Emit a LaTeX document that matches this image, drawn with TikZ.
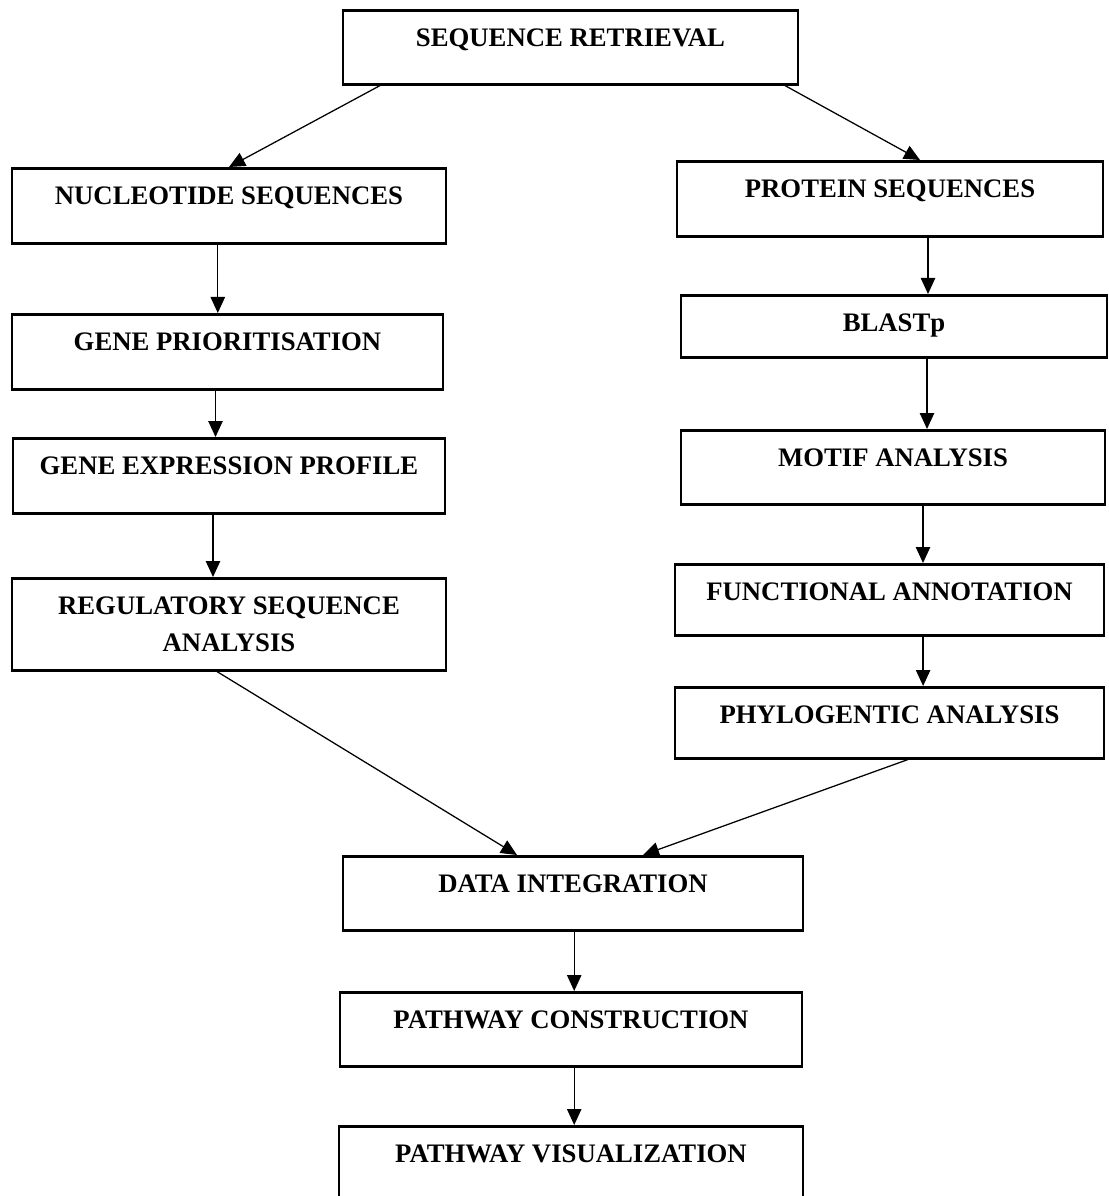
\documentclass[tikz,border=0pt]{standalone}
\usepackage{fontspec}
\setmainfont{Liberation Serif}
\usetikzlibrary{arrows.meta}

\begin{document}
\begin{tikzpicture}[
            x=0.025cm, y=-0.025cm,
            box/.style={draw, line width=1.8pt, inner sep=0pt, anchor=north,
                font=\bfseries\fontsize{19}{22}\selectfont, text height=0.91cm},
            >={Triangle[length=0.4cm, width=0.36cm]},
            arrow/.style={->, line width=0.9pt}
        ]
        \useasboundingbox (0,0) rectangle (1109,1196);

        % top
        \node[box, minimum width=11.375cm, text depth=0.94cm] (sr) at (570.5,9) {SEQUENCE RETRIEVAL};

        % left column
        \node[box, minimum width=10.85cm, text depth=0.965cm] (nuc) at (229,167) {NUCLEOTIDE SEQUENCES};
        \node[box, minimum width=10.775cm, text depth=0.965cm] (gp) at (227.5,313) {GENE PRIORITISATION};
        \node[box, minimum width=10.8cm, text depth=0.965cm] (ge) at (229,437) {GENE EXPRESSION PROFILE};
        \node[box, minimum width=10.85cm, minimum height=2.3cm, text height=, text depth=, align=center] (reg) at (229,577) {REGULATORY SEQUENCE\\[5pt] ANALYSIS};

        % right column
        \node[box, minimum width=10.65cm, text depth=0.965cm] (prot) at (890,160) {PROTEIN SEQUENCES};
        \node[box, minimum width=10.65cm, text depth=0.65cm] (blast) at (894,294) {BLASTp};
        \node[box, minimum width=10.6cm, text depth=0.94cm] (motif) at (893,429) {MOTIF ANALYSIS};
        \node[box, minimum width=10.725cm, text depth=0.865cm] (func) at (889.5,563) {FUNCTIONAL ANNOTATION};
        \node[box, minimum width=10.725cm, text depth=0.865cm] (phylo) at (889.5,686) {PHYLOGENTIC ANALYSIS};

        % bottom
        \node[box, minimum width=11.5cm, text depth=0.94cm] (data) at (573,855) {DATA INTEGRATION};
        \node[box, minimum width=11.55cm, text depth=0.94cm] (pc) at (571,991) {PATHWAY CONSTRUCTION};
        \node[box, minimum width=11.6cm, text depth=1.2cm] (pv) at (571,1125) {PATHWAY VISUALIZATION};

        \draw[arrow] ([xshift=-4.76cm]sr.south) -- (nuc.north);
        \draw[arrow] ([xshift=5.36cm]sr.south) -- ([xshift=0.75cm]prot.north);

        \foreach \a/\b/\s in {nuc/gp/-0.28, gp/ge/-0.3, ge/reg/-0.4,
                prot/blast/0.95, blast/motif/0.825, motif/func/0.75, func/phylo/0.84,
                data/pc/0.03, pc/pv/0.08}
            \draw[arrow] ([xshift=\s cm]\a.south) -- ([xshift=\s cm]\a.south |- \b.north);

        \draw[arrow] ([xshift=-0.3cm]reg.south) -- ([xshift=-1.4cm]data.north);
        \draw[arrow] ([xshift=0.46cm]phylo.south) -- ([xshift=1.75cm]data.north);
    \end{tikzpicture}
\end{document}
